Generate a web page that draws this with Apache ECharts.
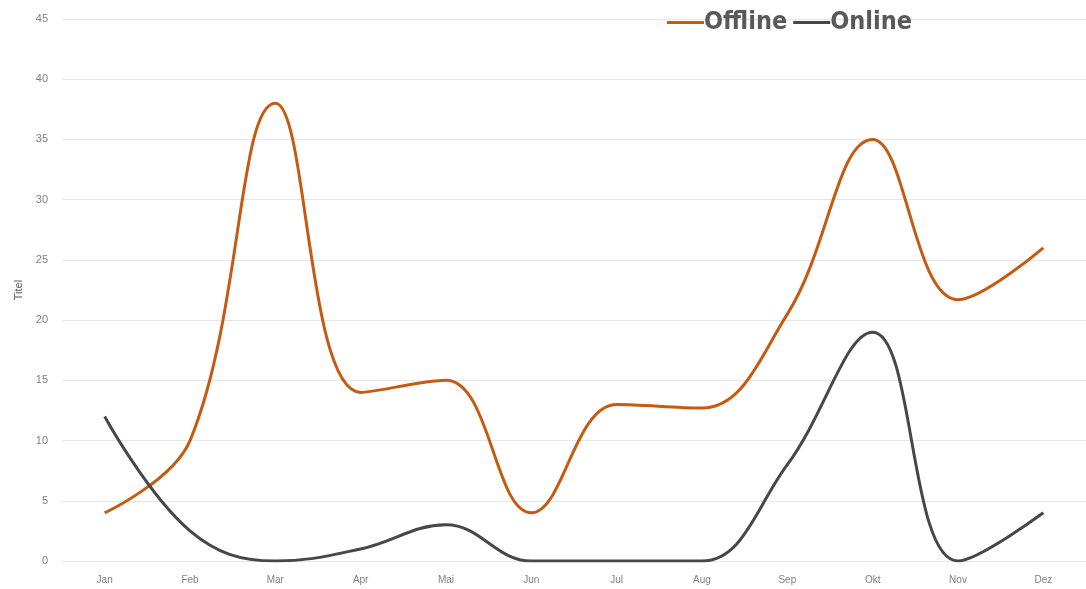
<!DOCTYPE html>
<html>
<head>
<meta charset="utf-8">
<script src="https://cdn.jsdelivr.net/npm/echarts@6/dist/echarts.min.js"></script>
<style>
  html, body { margin: 0; padding: 0; background: #fff; }
  #chart { width: 1086px; height: 589px; }
</style>
</head>
<body>
<div id="chart"></div>
<script>
  // Monate (x-Achse)
  const months = ['Jan', 'Feb', 'Mar', 'Apr', 'Mai', 'Jun', 'Jul', 'Aug', 'Sep', 'Okt', 'Nov', 'Dez'];
  // Werte pro Serie
  const offline = [4, 10, 38, 14, 15, 4, 13, 12.7, 20.5, 35, 21.7, 26];
  const online = [12, 2.5, 0, 1, 3, 0, 0, 0, 8, 19, 0, 4];
  const yTicks = { min: 0, max: 45, interval: 5 };

  const myChart = echarts.init(document.getElementById('chart'));
  const option = {
    animation: false,
    color: ['#c55a11', '#474747'],
    legend: {
      left: 662,
      top: 5,
      itemWidth: 37,
      itemHeight: 3,
      itemGap: 6,
      icon: 'rect',
      textStyle: {
        fontFamily: 'DejaVu Sans Condensed',
        fontWeight: 'bold',
        fontSize: 25,
        color: '#595959',
        padding: [0, 0, 0, -5]
      },
      data: ['Offline', 'Online']
    },
    grid: { left: 62, right: -6, top: 19, bottom: 28 },
    xAxis: {
      type: 'category',
      data: months,
      axisLine: { show: false },
      axisTick: { show: false },
      axisLabel: { color: '#7f7f7f', fontSize: 10, fontFamily: 'Liberation Sans', margin: 14 }
    },
    yAxis: {
      type: 'value',
      min: yTicks.min,
      max: yTicks.max,
      interval: yTicks.interval,
      name: 'Titel',
      nameLocation: 'middle',
      nameGap: 36,
      nameTextStyle: { color: '#595959', fontSize: 11, fontFamily: 'Liberation Sans' },
      axisLabel: { color: '#7f7f7f', fontSize: 11, fontFamily: 'Liberation Sans', margin: 14 },
      splitLine: { lineStyle: { color: '#e6e6e6', width: 1 } }
    },
    series: [
      {
        name: 'Offline',
        type: 'line',
        smooth: 0.4,
        symbol: 'none',
        data: offline,
        lineStyle: { width: 3 }
      },
      {
        name: 'Online',
        type: 'line',
        smooth: 0.4,
        symbol: 'none',
        data: online,
        lineStyle: { width: 3 }
      }
    ]
  };
  myChart.setOption(option);
</script>
</body>
</html>
